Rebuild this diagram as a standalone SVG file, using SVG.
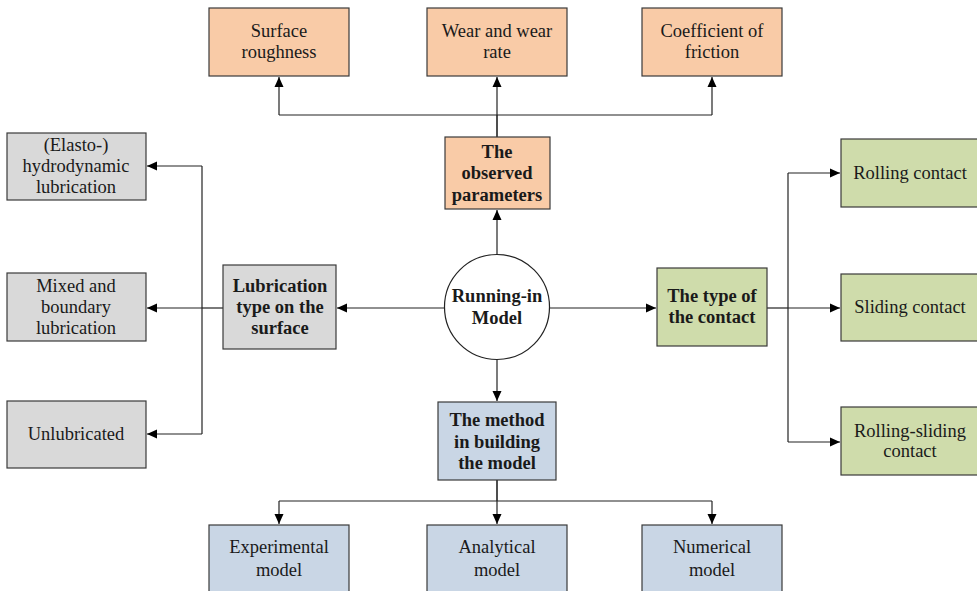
<svg xmlns="http://www.w3.org/2000/svg" width="977" height="591" viewBox="0 0 977 591">
<defs>
<marker id="ah" markerWidth="10" markerHeight="10" refX="10" refY="5" orient="auto" markerUnits="userSpaceOnUse">
<path d="M0,0.5 L10,5 L0,9.5 Z" fill="#000"/>
</marker>
<style>
.box{stroke:#3a3a3a;stroke-width:1.2}
.or{fill:#F9CBA7}
.gr{fill:#D9D9D9}
.gn{fill:#CFDCAB}
.bl{fill:#C9D6E5}
text{font-family:"Liberation Serif","Times New Roman",serif;font-size:18.5px;fill:#1a1a1a;text-anchor:middle;dominant-baseline:central}
.b{font-weight:bold}
.ln{fill:none;stroke:#222;stroke-width:1.2}
</style>
</defs>
<rect width="977" height="591" fill="#fff"/>

<g id="connectors">
<path class="ln" d="M279,115 H712"/>
<path class="ln" d="M497,137 V115" style="stroke-width:1.6"/>
<path class="ln" d="M279,115 V77" marker-end="url(#ah)"/>
<path class="ln" d="M497,115 V77" marker-end="url(#ah)"/>
<path class="ln" d="M712,115 V77" marker-end="url(#ah)"/>
<path class="ln" d="M497,254 V210" marker-end="url(#ah)"/>
<path class="ln" d="M444,308 H337" marker-end="url(#ah)"/>
<path class="ln" d="M549,308 H656" marker-end="url(#ah)"/>
<path class="ln" d="M497,359 V401" marker-end="url(#ah)"/>
<path class="ln" d="M223,308 H202"/>
<path class="ln" d="M202,166 V434"/>
<path class="ln" d="M202,166 H147" marker-end="url(#ah)"/>
<path class="ln" d="M202,308 H147" marker-end="url(#ah)"/>
<path class="ln" d="M202,434 H147" marker-end="url(#ah)"/>
<path class="ln" d="M767,308 H788"/>
<path class="ln" d="M788,173 V442"/>
<path class="ln" d="M788,173 H840" marker-end="url(#ah)"/>
<path class="ln" d="M788,308 H840" marker-end="url(#ah)"/>
<path class="ln" d="M788,442 H840" marker-end="url(#ah)"/>
<path class="ln" d="M497,480 V501" style="stroke-width:1.6"/>
<path class="ln" d="M279,501 H712"/>
<path class="ln" d="M279,501 V524" marker-end="url(#ah)"/>
<path class="ln" d="M497,501 V524" marker-end="url(#ah)"/>
<path class="ln" d="M712,501 V524" marker-end="url(#ah)"/>
</g>

<g id="surface-roughness">
<rect class="box or" x="209" y="8" width="140" height="68"/>
<text x="279" y="31">Surface</text>
<text x="279" y="52">roughness</text>
</g>
<g id="wear">
<rect class="box or" x="427" y="8" width="140" height="68"/>
<text x="497" y="31">Wear and wear</text>
<text x="497" y="52">rate</text>
</g>
<g id="friction">
<rect class="box or" x="642" y="8" width="140" height="68"/>
<text x="712" y="31">Coefficient of</text>
<text x="712" y="52">friction</text>
</g>
<g id="observed">
<rect class="box or" x="445" y="137" width="105" height="72"/>
<text class="b" x="497" y="152">The</text>
<text class="b" x="497" y="173">observed</text>
<text class="b" x="497" y="195">parameters</text>
</g>
<g id="running-in">
<circle cx="497" cy="307" r="52.5" fill="#fff" stroke="#222" stroke-width="1.2"/>
<text class="b" x="497" y="296">Running-in</text>
<text class="b" x="497" y="318">Model</text>
</g>
<g id="lubrication-type">
<rect class="box gr" x="223" y="265" width="113" height="84"/>
<text class="b" x="280" y="286">Lubrication</text>
<text class="b" x="280" y="307">type on the</text>
<text class="b" x="280" y="328">surface</text>
</g>
<g id="ehl">
<rect class="box gr" x="7" y="133" width="139" height="67"/>
<text x="76" y="145">(Elasto-)</text>
<text x="76" y="166">hydrodynamic</text>
<text x="76" y="187">lubrication</text>
</g>
<g id="mixed">
<rect class="box gr" x="7" y="273" width="139" height="68"/>
<text x="76" y="286">Mixed and</text>
<text x="76" y="307">boundary</text>
<text x="76" y="328">lubrication</text>
</g>
<g id="unlubricated">
<rect class="box gr" x="7" y="401" width="139" height="67"/>
<text x="76" y="434">Unlubricated</text>
</g>
<g id="contact-type">
<rect class="box gn" x="657" y="268" width="110" height="78"/>
<text class="b" x="712" y="296">The type of</text>
<text class="b" x="712" y="317">the contact</text>
</g>
<g id="rolling">
<rect class="box gn" x="841" y="139" width="140" height="68"/>
<text x="910" y="173">Rolling contact</text>
</g>
<g id="sliding">
<rect class="box gn" x="841" y="274" width="140" height="67"/>
<text x="910" y="307">Sliding contact</text>
</g>
<g id="rolling-sliding">
<rect class="box gn" x="841" y="407" width="140" height="68"/>
<text x="910" y="431">Rolling-sliding</text>
<text x="910" y="451">contact</text>
</g>
<g id="method">
<rect class="box bl" x="438" y="402" width="118" height="78"/>
<text class="b" x="497" y="420">The method</text>
<text class="b" x="497" y="442">in building</text>
<text class="b" x="497" y="463">the model</text>
</g>
<g id="experimental">
<rect class="box bl" x="209" y="525" width="140" height="70"/>
<text x="279" y="547">Experimental</text>
<text x="279" y="570">model</text>
</g>
<g id="analytical">
<rect class="box bl" x="427" y="525" width="140" height="70"/>
<text x="497" y="547">Analytical</text>
<text x="497" y="570">model</text>
</g>
<g id="numerical">
<rect class="box bl" x="642" y="525" width="140" height="70"/>
<text x="712" y="547">Numerical</text>
<text x="712" y="570">model</text>
</g>
</svg>
